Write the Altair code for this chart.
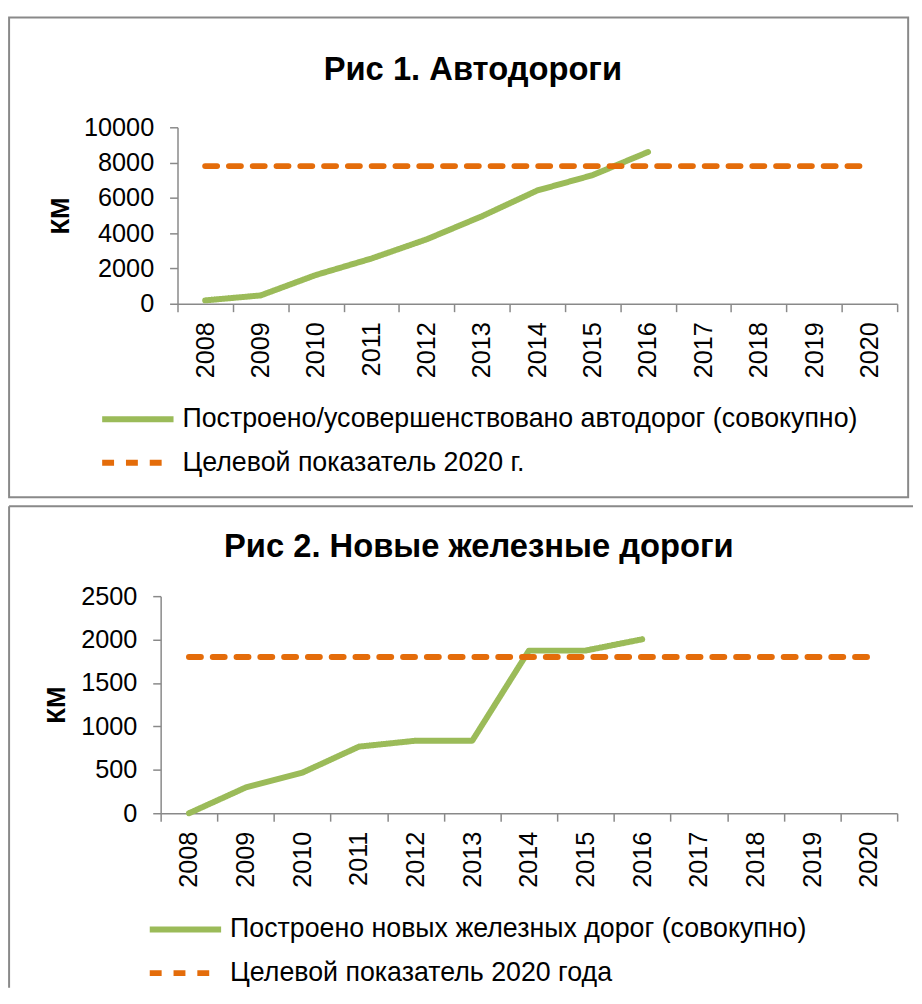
import altair as alt
import pandas as pd

years = [str(y) for y in range(2008, 2021)]
road_built = [190, 470, 1630, 2560, 3650, 4960, 6420, 7290, 8600]
road_target = 7800
rail_built = [0, 296, 467, 767, 835, 835, 1873, 1873, 2003]
rail_target = 1800

road_series = ["Построено/усовершенствовано автодорог (совокупно)", "Целевой показатель 2020 г."]
rail_series = ["Построено новых железных дорог (совокупно)", "Целевой показатель 2020 года"]
titles = ["Рис 1. Автодороги", "Рис 2. Новые железные дороги"]
y_title = "КМ"
road_ticks = [0, 2000, 4000, 6000, 8000, 10000]
rail_ticks = [0, 500, 1000, 1500, 2000, 2500]

GREEN = "#9BBB59"
ORANGE = "#E46C0A"
GREY = "#898989"
FONT = "Liberation Sans"

one = pd.DataFrame({"a": [0]})


def panel(built, target, series, title, ticks, W, H, xrange, axis_off, lx, ly,
          tx, ty, ytx, box, full_box):
    df_b = pd.DataFrame({"year": years[:len(built)], "value": built, "series": series[0]})
    df_t = pd.DataFrame({"year": years, "value": [target] * len(years), "series": series[1]})
    x = alt.X("year:O", sort=years,
              scale=alt.Scale(type="band", domain=years, paddingInner=0, paddingOuter=0, range=xrange),
              bandPosition=0.5,
              axis=alt.Axis(title=None, labelAngle=270, tickBand="extent", tickSize=8,
                            labelPadding=10, grid=False))
    y = alt.Y("value:Q", scale=alt.Scale(domain=[ticks[0], ticks[-1]], nice=False),
              axis=alt.Axis(values=ticks, format="d", title=y_title, titleAngle=270, titleX=ytx,
                            titleY=H / 2, titleAlign="center", titleBaseline="middle",
                            titleFont=FONT, titleFontSize=26, titleFontWeight="bold", titleColor="black",
                            grid=False, tickSize=8, labelPadding=16, offset=axis_off))
    leg = alt.Legend(title=None, orient="none", legendX=lx, legendY=ly, symbolType="stroke",
                     symbolSize=5184, symbolStrokeWidth=6, labelFont=FONT, labelFontSize=27,
                     labelColor="black", labelLimit=0, labelOffset=6, clipHeight=30, rowPadding=14,
                     padding=0, symbolOffset=0, direction="vertical")
    color = alt.Color("series:N", scale=alt.Scale(domain=series, range=[GREEN, ORANGE]), legend=leg)
    dash = alt.StrokeDash("series:N", scale=alt.Scale(domain=series, range=[[1, 0], [12, 12]]), legend=leg)

    line_b = alt.Chart(df_b).mark_line(strokeWidth=6, strokeCap="round", strokeJoin="round").encode(
        x=x, y=y, color=color, strokeDash=dash)
    line_t = alt.Chart(df_t).mark_line(strokeWidth=6, strokeCap="round").encode(
        x=x, y=y, color=color, strokeDash=dash)
    ttl = alt.Chart(one).mark_text(text=title, font=FONT, fontSize=33, fontWeight="bold",
                                   color="black", align="center", baseline="middle").encode(
        x=alt.value(tx), y=alt.value(ty))
    x1, x2, y1, y2 = box
    if full_box:
        frame = [alt.Chart(one).mark_rect(fillOpacity=0, stroke=GREY, strokeWidth=2).encode(
            x=alt.value(x1), x2=alt.value(x2), y=alt.value(y1), y2=alt.value(y2))]
    else:
        frame = [
            alt.Chart(one).mark_rule(stroke=GREY, strokeWidth=2).encode(
                x=alt.value(x1), x2=alt.value(x2), y=alt.value(y1)),
            alt.Chart(one).mark_rule(stroke=GREY, strokeWidth=2).encode(
                x=alt.value(x1), y=alt.value(y1), y2=alt.value(y2)),
        ]
    return alt.layer(*frame, line_b, line_t, ttl).properties(width=W, height=H)


p1 = panel(road_built, road_target, road_series, titles[0], road_ticks,
           726, 178, [0, 726], 0, -79, 279.5, 298, -57.5, -118,
           (-169.9, 737.1, -110.8, 373.2), True)
p2 = panel(rail_built, rail_target, rail_series, titles[1], rail_ticks,
           726, 219, [-17, 726], 17, -31, 321.3, 304, -49.5, -105,
           (-169.9, 742, -90.7, 395), False)

chart = alt.concat(p1, p2, columns=1, spacing=6, align="none", bounds="full").resolve_scale(
    color="independent", strokeDash="independent"
).properties(
    padding={"left": 0, "top": 4, "right": 0, "bottom": 0}
).configure_view(stroke=None).configure_axis(
    labelFont=FONT, labelFontSize=25.5, labelColor="black", domainColor=GREY, tickColor=GREY,
    domainWidth=1.5, tickWidth=1.5
)

chart.save("out.html", embed_options={"renderer": "svg", "actions": False})
